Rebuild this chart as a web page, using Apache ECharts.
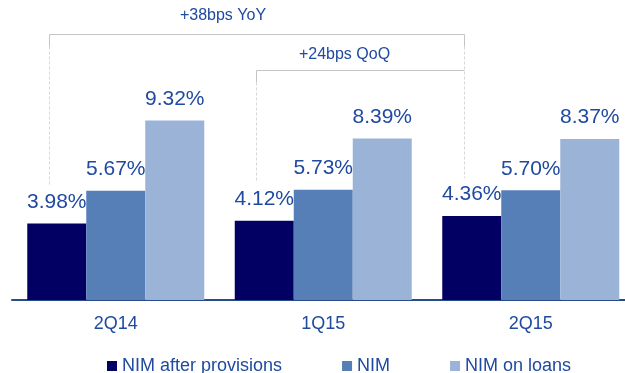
<!DOCTYPE html>
<html>
<head>
<meta charset="utf-8">
<script src="https://cdn.jsdelivr.net/npm/echarts@6/dist/echarts.min.js"></script>
<style>
  html, body { margin: 0; padding: 0; background: #fff; }
  #chart { width: 625px; height: 373px; }
</style>
</head>
<body>
<div id="chart"></div>
<script>
// Quarterly net interest margin figures (%)
const categories = ['2Q14', '1Q15', '2Q15'];
const seriesNames = ['NIM after provisions', 'NIM', 'NIM on loans'];
const nimAfterProvisions = [3.98, 4.12, 4.36];
const nim = [5.67, 5.73, 5.70];
const nimOnLoans = [9.32, 8.39, 8.37];
const yoyText = '+38bps YoY';
const qoqText = '+24bps QoQ';

const colors = ['#020062', '#567fb8', '#9bb3d7'];
const textBlue = '#1f4aa0';
const font = '"Liberation Sans", Arial, sans-serif';

const chart = echarts.init(document.getElementById('chart'), null, { renderer: 'canvas' });

function barSeries(name, data, color) {
  return {
    name: name,
    type: 'bar',
    data: data,
    barWidth: 59,
    barGap: '0%',
    itemStyle: { color: color },
    label: {
      show: true,
      position: 'top',
      distance: 11,
      formatter: p => p.value.toFixed(2) + '%',
      color: textBlue,
      fontFamily: font,
      fontSize: 21
    }
  };
}

chart.setOption({
  animation: false,
  grid: { left: 12, width: 622.5, top: 107.5, bottom: 73, containLabel: false, outerBoundsMode: 'none' },
  xAxis: {
    type: 'category',
    data: categories,
    axisLine: { lineStyle: { color: '#2a4a8a', width: 2 } },
    axisTick: { show: false },
    axisLabel: { color: textBlue, fontFamily: font, fontSize: 18, margin: 15 }
  },
  yAxis: {
    type: 'value',
    min: 0,
    max: 10,
    show: false,
    splitLine: { show: false }
  },
  legend: {
    data: seriesNames,
    left: 107,
    top: 357,
    padding: 0,
    itemWidth: 10,
    itemHeight: 10,
    itemGap: 60,
    icon: 'rect',
    textStyle: { color: textBlue, fontFamily: font, fontSize: 18 }
  },
  series: [
    barSeries(seriesNames[0], nimAfterProvisions, colors[0]),
    barSeries(seriesNames[1], nim, colors[1]),
    barSeries(seriesNames[2], nimOnLoans, colors[2])
  ]
});

// Comparison brackets drawn above the first bar of each quarter
const solid = { stroke: '#c4c4c4', lineWidth: 1 };
const dashed = { stroke: '#d6d6d6', lineWidth: 1, lineDash: [3, 2] };

function legX(i) {
  return Math.round(chart.convertToPixel({ xAxisIndex: 0 }, categories[i]) - 67) + 0.5;
}
function legBottom(i) {
  return chart.convertToPixel({ yAxisIndex: 0 }, nimAfterProvisions[i]) - 38;
}

const yoyTop = 34.5, qoqTop = 70.5, solidLeg = 12;
const x0 = legX(0), x1 = legX(1), x2 = legX(2);

const elements = [];
function bracketLeg(x, top, bottom) {
  elements.push({ type: 'line', shape: { x1: x, y1: top, x2: x, y2: top + solidLeg }, style: solid, silent: true });
  elements.push({ type: 'line', shape: { x1: x, y1: top + solidLeg, x2: x, y2: bottom }, style: dashed, silent: true });
}
// year-on-year bracket
elements.push({ type: 'line', shape: { x1: x0, y1: yoyTop, x2: x2, y2: yoyTop }, style: solid, silent: true });
bracketLeg(x0, yoyTop, legBottom(0));
// quarter-on-quarter bracket
elements.push({ type: 'line', shape: { x1: x1, y1: qoqTop, x2: x2, y2: qoqTop }, style: solid, silent: true });
bracketLeg(x1, qoqTop, legBottom(1));
bracketLeg(x2, yoyTop, legBottom(2));

const noteStyle = {
  fill: textBlue,
  fontFamily: font,
  fontSize: 16,
  align: 'center',
  verticalAlign: 'middle'
};
elements.push({
  type: 'text', x: (x0 + x2) / 2 - 34, y: 16,
  style: Object.assign({ text: yoyText }, noteStyle),
  silent: true
});
elements.push({
  type: 'text', x: (x1 + x2) / 2 - 16, y: 55,
  style: Object.assign({ text: qoqText }, noteStyle),
  silent: true
});

chart.setOption({ graphic: { elements: elements } });
</script>
</body>
</html>
